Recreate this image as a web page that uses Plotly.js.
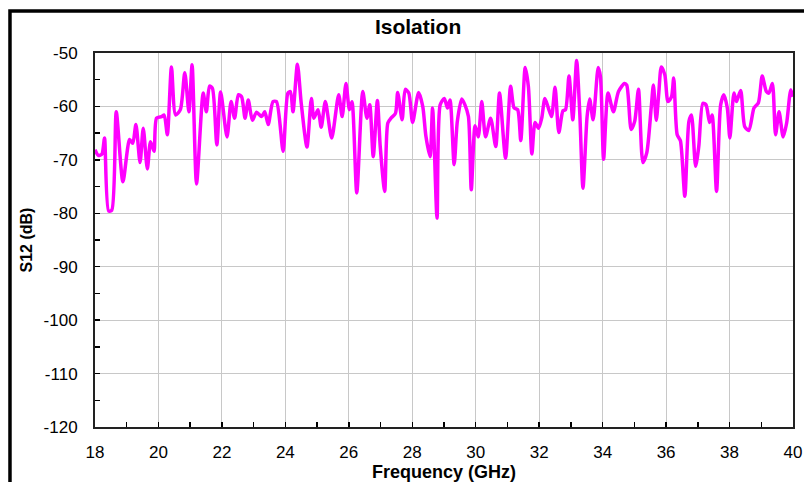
<!DOCTYPE html>
<html>
<head>
<meta charset="utf-8">
<script src="https://cdn.plot.ly/plotly-3.0.1.min.js"></script>
<style>
  html, body { margin: 0; padding: 0; background: #ffffff; }
  #chart { width: 804px; height: 482px; }
</style>
</head>
<body>
<div id="chart"></div>
<script>
// Frequency (GHz)
const freqGHz = [
  18.00, 18.11, 18.22, 18.30, 18.43, 18.53, 18.67, 18.88, 19.09, 19.19,
  19.29, 19.42, 19.52, 19.65, 19.75, 19.86, 19.94, 20.10, 20.18, 20.28,
  20.41, 20.54, 20.69, 20.83, 20.96, 21.06, 21.20, 21.41, 21.51, 21.61,
  21.70, 21.84, 21.96, 22.16, 22.29, 22.40,
  22.52, 22.62, 22.73, 22.83, 22.96, 23.09, 23.25, 23.35, 23.46, 23.61,
  23.72, 23.93, 24.08, 24.16, 24.24, 24.38, 24.50, 24.68, 24.82, 24.90,
  25.03, 25.13, 25.26, 25.46, 25.68, 25.79, 25.91, 26.02, 26.10, 26.25,
  26.44, 26.57, 26.66, 26.77,
  26.90, 26.99, 27.13, 27.23, 27.33, 27.47, 27.54, 27.68, 27.78, 27.89,
  28.01, 28.20, 28.33, 28.43, 28.56, 28.64, 28.78, 28.88, 29.01, 29.11,
  29.19, 29.32, 29.42, 29.56, 29.66, 29.77, 29.86, 29.98, 30.08, 30.19,
  30.31, 30.47, 30.63, 30.75, 30.94, 31.10,
  31.21, 31.32, 31.42, 31.56, 31.66, 31.77, 31.87, 31.98, 32.08, 32.18,
  32.29, 32.39, 32.50, 32.62, 32.75, 32.83, 32.94, 33.06, 33.18, 33.28,
  33.38, 33.51, 33.59, 33.70, 33.86, 33.93, 34.03, 34.17, 34.34, 34.50,
  34.69, 34.76, 34.90, 35.01, 35.13, 35.27, 35.39, 35.53,
  35.60, 35.69, 35.77, 35.85, 35.96, 36.06, 36.17, 36.24, 36.35, 36.45,
  36.59, 36.72, 36.80, 36.93, 37.03, 37.16, 37.26, 37.37, 37.45, 37.59,
  37.72, 37.82, 37.93, 38.01, 38.14, 38.22, 38.35, 38.48, 38.61, 38.77,
  38.91, 39.03, 39.16, 39.24, 39.35, 39.45, 39.56, 39.69, 39.80, 39.93,
  40.00
];

// S12 (dB)
const s12dB = [
  -68.1, -69.2, -68.9, -65.9, -79.6, -79.4, -61.0, -74.1, -66.2, -66.9,
  -63.4, -70.5, -64.1, -71.7, -66.6, -68.4, -62.2, -61.9, -61.6, -65.3,
  -52.6, -61.6, -60.6, -53.7, -61.0, -52.2, -74.5, -57.5, -61.0, -56.2,
  -56.6, -67.2, -57.3, -65.7, -59.1, -62.2,
  -57.8, -58.2, -62.2, -58.8, -62.6, -61.1, -61.9, -61.0, -63.4, -59.1,
  -59.1, -68.4, -57.5, -57.2, -61.0, -52.1, -59.4, -67.6, -58.5, -62.2,
  -60.6, -63.9, -59.1, -65.9, -57.8, -61.9, -55.7, -60.6, -59.1, -76.2,
  -57.2, -62.2, -59.7, -69.4,
  -58.9, -67.5, -75.9, -63.1, -62.2, -61.3, -57.4, -62.5, -56.8, -57.5,
  -63.0, -57.4, -60.0, -65.6, -69.4, -60.3, -80.9, -59.7, -58.5, -60.3,
  -58.8, -70.9, -62.8, -58.6, -59.7, -61.9, -75.6, -63.6, -65.7, -59.1,
  -65.7, -62.2, -67.5, -57.5, -69.7, -56.2,
  -60.3, -60.6, -66.4, -52.7, -56.3, -68.9, -63.0, -64.1, -62.2, -58.5,
  -60.3, -61.9, -56.4, -64.9, -60.8, -60.6, -54.3, -62.5, -51.4, -61.3,
  -75.3, -61.9, -58.6, -62.5, -52.7, -54.4, -69.9, -57.5, -61.0, -57.2,
  -55.7, -56.0, -64.3, -62.8, -56.8, -70.5, -68.7, -60.3,
  -56.0, -62.6, -57.5, -52.6, -54.1, -59.1, -58.2, -54.7, -65.3, -66.4,
  -76.8, -62.8, -61.6, -71.2, -67.5, -59.4, -59.7, -63.0, -61.6, -75.9,
  -59.7, -57.8, -60.3, -65.9, -57.5, -59.1, -57.0, -63.8, -64.5, -60.3,
  -59.3, -54.3, -57.2, -57.5, -55.7, -65.3, -61.0, -65.7, -63.1, -56.9,
  -58.2
];

const xTickVals = [18, 20, 22, 24, 26, 28, 30, 32, 34, 36, 38, 40];
const xTickLabels = ["18", "20", "22", "24", "26", "28", "30", "32", "34", "36", "38", "40"];
const yTickVals = [-50, -60, -70, -80, -90, -100, -110, -120];
const yTickLabels = ["-50", "-60", "-70", "-80", "-90", "-100", "-110", "-120"];

const FONT = 'Arial, "Liberation Sans", sans-serif';

const trace = {
  x: freqGHz,
  y: s12dB,
  type: 'scatter',
  mode: 'lines',
  line: { color: '#FF00FF', width: 3.5, shape: 'spline', smoothing: 0.7 },
  hoverinfo: 'x+y'
};

const layout = {
  width: 804,
  height: 482,
  paper_bgcolor: '#ffffff',
  plot_bgcolor: '#ffffff',
  margin: { l: 95, r: 11, t: 53, b: 55 },
  showlegend: false,
  font: { family: FONT, color: '#000000', size: 17 },
  title: {
    text: '<b>Isolation</b>',
    font: { family: FONT, size: 21, color: '#000000' },
    xref: 'container', x: 0.52, xanchor: 'center',
    yref: 'container', y: 0.944, yanchor: 'middle'
  },
  xaxis: {
    range: [18, 40],
    tickmode: 'array',
    tickvals: xTickVals,
    ticktext: xTickLabels,
    ticks: 'inside',
    ticklen: 5,
    tickwidth: 1.5,
    tickcolor: '#000000',
    ticklabelstandoff: 9,
    tickfont: { family: FONT, size: 17, color: '#000000' },
    showgrid: true,
    gridcolor: '#c8c8c8',
    gridwidth: 1,
    showline: true,
    linecolor: '#222222',
    linewidth: 2,
    mirror: true,
    zeroline: false,
    minor: { dtick: 1, tick0: 18, ticks: 'inside', ticklen: 5, tickwidth: 1.5, tickcolor: '#000000', showgrid: false },
    title: {
      text: '<b>Frequency (GHz)</b>',
      font: { family: FONT, size: 18, color: '#000000' },
      standoff: 5
    },
    automargin: false,
    fixedrange: true
  },
  yaxis: {
    range: [-120, -50],
    tickmode: 'array',
    tickvals: yTickVals,
    ticktext: yTickLabels,
    ticks: 'inside',
    ticklen: 5,
    tickwidth: 1.5,
    tickcolor: '#000000',
    ticklabelstandoff: 12,
    tickfont: { family: FONT, size: 17, color: '#000000' },
    showgrid: true,
    gridcolor: '#c8c8c8',
    gridwidth: 1,
    showline: true,
    linecolor: '#222222',
    linewidth: 2,
    mirror: true,
    zeroline: false,
    minor: { dtick: 5, tick0: -120, ticks: 'inside', ticklen: 5, tickwidth: 1.5, tickcolor: '#000000', showgrid: false },
    title: {
      text: '<b>S12 (dB)</b>',
      font: { family: FONT, size: 16, color: '#000000' },
      standoff: 7
    },
    automargin: false,
    fixedrange: true
  },
  shapes: [
    {
      type: 'rect', xref: 'paper', yref: 'paper',
      x0: -0.1218, x1: 1.06, y0: -0.3, y1: 1.112,
      line: { color: '#000000', width: 3.5 },
      fillcolor: 'rgba(0,0,0,0)',
      layer: 'above'
    }
  ]
};

Plotly.newPlot('chart', [trace], layout, { displayModeBar: false, staticPlot: true });
</script>
</body>
</html>
